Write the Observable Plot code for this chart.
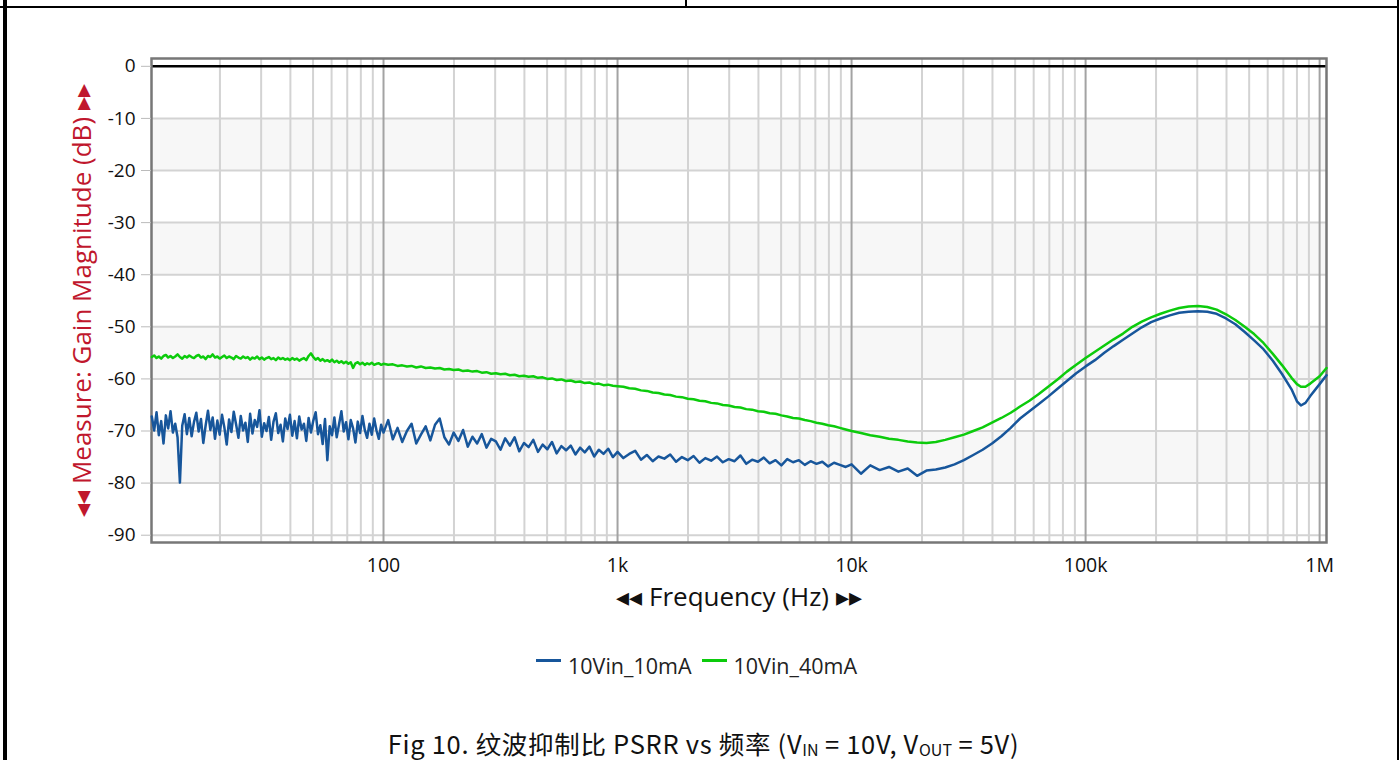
<!DOCTYPE html>
<html>
<head>
<meta charset="utf-8">
<script src="https://cdn.jsdelivr.net/npm/d3@7"></script>
<script src="https://cdn.jsdelivr.net/npm/@observablehq/plot@0.6"></script>
<style>
  html, body { margin: 0; padding: 0; background: #fff; }
  body { width: 1399px; height: 760px; position: relative; overflow: hidden; font-family: "Open Sans", "Noto Sans", sans-serif; }
  .bl { position: absolute; background: #000; }
  #chart { position: absolute; left: 0; top: 0; }
  #legend { position: absolute; left: 0; top: 647px; height: 36px; display: flex; align-items: center; font-size: 21.5px; color: #222; }
  .item { display: flex; align-items: center; margin-right: 10px; }
  .sw { display: inline-block; width: 25px; height: 3px; margin-right: 7px; position: relative; top: -5px; }
  #caption { position: absolute; left: 4px; width: 1399px; top: 728px; height: 30px; line-height: 30px; text-align: center; font-family: "Noto Sans CJK SC", sans-serif; font-size: 25.5px; letter-spacing: 0.7px; color: #111; }
  #caption sub { font-size: 16px; vertical-align: -2px; line-height: 0; letter-spacing: 0; }
</style>
</head>
<body>
<div class="bl" style="left:3px;top:0;width:4px;height:760px"></div>
<div class="bl" style="left:0;top:6px;width:1399px;height:2px"></div>
<div class="bl" style="left:685px;top:0;width:2px;height:7px"></div>
<div class="bl" style="left:1397px;top:0;width:2px;height:760px"></div>
<div id="chart"></div>
<div id="legend"></div>
<div id="caption">Fig 10. 纹波抑制比 PSRR vs 频率 (V<sub>IN</sub> = 10V, V<sub>OUT</sub> = 5V)</div>
<script>
// ---- data ----
const seriesNames = ["10Vin_10mA", "10Vin_40mA"];
const seriesColors = ["#17569b", "#0ccb0c"];

const freqHz = [
  // 10 Hz - 100 Hz
  10.23, 10.47, 10.72, 10.96, 11.22, 11.48, 11.75, 12.02, 12.30, 12.59,
  12.88, 13.18, 13.49, 13.80, 14.13, 14.45, 14.79, 15.14, 15.49, 15.85,
  16.22, 16.60, 16.98, 17.38, 17.78, 18.20, 18.62, 19.05, 19.50, 19.95,
  20.42, 20.89, 21.38, 21.88, 22.39, 22.91, 23.44, 23.99, 24.55, 25.12,
  25.70, 26.30, 26.92, 27.54, 28.18, 28.84, 29.51, 30.20, 30.90, 31.62,
  32.36, 33.11, 33.88, 34.67, 35.48, 36.31, 37.15, 38.02, 38.90, 39.81,
  40.74, 41.69, 42.66, 43.65, 44.67, 45.71, 46.77, 47.86, 48.98, 50.12,
  51.29, 52.48, 53.70, 54.95, 56.23, 57.54, 58.88, 60.26, 61.66, 63.10,
  64.57, 66.07, 67.61, 69.18, 70.79, 72.44, 74.13, 75.86, 77.62, 79.43,
  81.28, 83.18, 85.11, 87.10, 89.13, 91.20, 93.33, 95.50, 97.72,
  // 100 Hz - 1 kHz
  100, 104.7, 109.6, 114.8, 120.2, 125.9, 131.8, 138.0, 144.5, 151.4,
  158.5, 166.0, 173.8, 182.0, 190.5, 199.5, 208.9, 218.8, 229.1, 239.9,
  251.2, 263.0, 275.4, 288.4, 302.0, 316.2, 331.1, 346.7, 363.1, 380.2,
  398.1, 416.9, 436.5, 457.1, 478.6, 501.2, 524.8, 549.5, 575.4, 602.6,
  631.0, 660.7, 691.8, 724.4, 758.6, 794.3, 831.8, 871.0, 912.0, 955.0,
  // 1 kHz - 10 kHz
  1000, 1059, 1122, 1189, 1259, 1334, 1413, 1496, 1585, 1679,
  1778, 1884, 1995, 2113, 2239, 2371, 2512, 2661, 2818, 2985,
  3162, 3350, 3548, 3758, 3981, 4217, 4467, 4732, 5012, 5309,
  5623, 5957, 6310, 6683, 7079, 7499, 7943, 8414, 8913, 9441,
  // 10 kHz - 100 kHz
  10000, 10965, 12023, 13183, 14454, 15849, 17378, 19055, 20893, 22909,
  25119, 27542, 30200, 33113, 36308, 39811, 43652, 47863, 52481, 57544,
  63096, 69183, 75858, 83176, 91201,
  // 100 kHz - 1.07 MHz
  100000, 109648, 120226, 131826, 144544, 158489, 173780, 190546, 208930, 229087,
  251189, 275423, 301995, 331131, 363078, 398107, 436516, 478630, 524807, 575440,
  630957, 691831, 758578, 800000, 831764, 870000, 912011, 1000000, 1070000
];

const psrr10mA = [
  -67.2, -69.9, -66.4, -70.8, -68.1, -72.4, -67.0, -69.5, -66.2, -70.3,
  -68.6, -71.2, -79.9, -69.0, -66.8, -70.6, -67.5, -71.0, -68.3, -66.5,
  -70.1, -67.7, -72.3, -68.9, -66.1, -69.8, -67.4, -71.5, -68.0, -70.7,
  -66.9, -69.3, -72.6, -67.8, -70.2, -66.3, -68.7, -71.3, -67.1, -69.9,
  -68.4, -72.1, -66.7, -70.5, -67.9, -69.2, -66.0, -71.1, -68.5, -70.0,
  -67.3, -71.7, -68.2, -66.6, -70.4, -68.8, -72.0, -67.6, -69.6, -66.9,
  -70.9, -68.1, -71.4, -67.2, -69.7, -68.6, -71.9, -67.5, -70.3, -68.0,
  -66.4, -70.6, -68.9, -72.5, -67.7, -75.6, -69.1, -70.8, -67.4, -71.2,
  -68.7, -66.2, -70.1, -68.3, -71.6, -67.9, -69.5, -72.2, -68.2, -70.4,
  -67.1, -69.8, -71.3, -68.6, -70.7, -67.6, -69.9, -71.5, -68.8,
  -70.3, -67.9, -71.6, -69.4, -72.1, -70.0, -68.6, -72.4, -70.7, -69.1,
  -71.8, -68.8, -67.6, -71.2, -72.6, -70.3, -71.9, -69.8, -73.0, -71.1,
  -72.4, -70.6, -73.2, -71.5, -72.0, -73.6, -71.4, -72.8, -71.2, -73.9,
  -72.3, -73.1, -71.7, -74.0, -72.6, -73.5, -72.1, -74.3, -72.9, -73.7,
  -72.8, -74.5, -73.2, -74.1, -73.0, -74.9, -73.6, -74.4, -73.4, -75.0,
  -74.0, -75.2, -74.4, -73.8, -75.5, -74.6, -75.8, -74.9, -75.3, -74.5,
  -75.9, -75.0, -75.6, -74.8, -76.1, -75.2, -75.7, -74.9, -76.0, -75.4,
  -75.8, -74.7, -76.3, -75.5, -75.9, -75.1, -76.2, -75.6, -76.6, -75.4,
  -76.0, -75.6, -76.5, -75.8, -76.3, -75.9, -76.8, -76.1, -76.5, -76.9,
  -76.4, -78.2, -76.6, -77.5, -76.9, -77.8, -77.2, -78.6, -77.6, -77.4,
  -77.0, -76.4, -75.6, -74.6, -73.6, -72.4, -71.0, -69.4, -67.6, -66.2,
  -64.8, -63.4, -61.9, -60.4, -58.9,
  -57.6, -56.4, -55.0, -53.7, -52.5, -51.3, -50.1, -49.1, -48.4, -47.8,
  -47.3, -47.1, -47.0, -47.1, -47.5, -48.4, -49.5, -51.0, -52.6, -54.3,
  -56.5, -59.1, -62.0, -64.3, -65.1, -64.6, -63.3, -61.0, -59.3
];

const psrr40mA = [
  -55.8, -55.5, -56.0, -55.7, -56.1, -55.6, -55.4, -55.9, -55.6, -56.0,
  -55.7, -55.3, -55.8, -56.1, -55.6, -55.9, -55.5, -55.8, -56.0, -55.6,
  -55.4, -55.9, -55.7, -56.2, -55.6, -55.8, -55.3, -55.9, -55.7, -56.1,
  -55.8, -55.5, -56.0, -55.7, -55.9, -56.2, -55.6, -55.9, -56.1, -55.7,
  -56.0, -55.8, -56.3, -55.9, -56.1, -55.7, -56.2, -55.9, -56.3, -56.0,
  -55.8, -56.2, -56.0, -56.4, -55.9, -56.2, -56.0, -56.3, -56.1, -56.4,
  -56.0, -56.3, -56.1, -56.5, -56.2, -56.0, -56.4, -55.6, -55.1, -55.8,
  -56.3, -56.0, -56.5, -56.2, -56.6, -56.4, -56.7, -56.3, -56.8, -56.5,
  -56.9, -56.6, -57.0, -56.7, -57.1, -56.8, -57.9, -57.0, -56.8, -57.2,
  -56.9, -57.3, -57.0, -57.2, -56.9, -57.3, -57.1, -57.0, -57.3,
  -57.1, -57.3, -57.2, -57.5, -57.4, -57.6, -57.5, -57.8, -57.6, -57.9,
  -57.8, -58.0, -57.9, -58.2, -58.1, -58.3, -58.2, -58.5, -58.4, -58.6,
  -58.5, -58.8, -58.7, -59.0, -58.9, -59.1, -59.0, -59.3, -59.2, -59.5,
  -59.4, -59.6, -59.5, -59.8, -59.7, -60.0, -59.9, -60.2, -60.1, -60.4,
  -60.3, -60.6, -60.5, -60.8, -60.7, -61.0, -60.9, -61.2, -61.1, -61.3,
  -61.4, -61.5, -61.8, -61.9, -62.2, -62.3, -62.6, -62.7, -63.0, -63.1,
  -63.4, -63.5, -63.8, -63.9, -64.2, -64.3, -64.6, -64.7, -65.0, -65.1,
  -65.4, -65.5, -65.8, -65.9, -66.2, -66.3, -66.6, -66.7, -67.0, -67.2,
  -67.5, -67.6, -67.9, -68.1, -68.4, -68.6, -68.9, -69.1, -69.4, -69.7,
  -70.0, -70.4, -70.8, -71.1, -71.5, -71.7, -72.0, -72.2, -72.3, -72.1,
  -71.7, -71.2, -70.7, -70.0, -69.3, -68.4, -67.5, -66.5, -65.3, -64.2,
  -62.9, -61.5, -60.1, -58.6, -57.3,
  -56.0, -54.8, -53.6, -52.4, -51.3, -50.0, -49.0, -48.2, -47.5, -46.9,
  -46.4, -46.1, -46.0, -46.2, -46.7, -47.6, -48.7, -50.0, -51.4, -53.1,
  -55.2, -57.4, -59.8, -61.0, -61.5, -61.5, -60.9, -59.5, -57.9
];

const xTickValues = [100, 1000, 10000, 100000, 1000000];
const xTickLabels = ["100", "1k", "10k", "100k", "1M"];
const xDecades = [10, 100, 1000, 10000, 100000];
const xMinorMultipliers = [2, 3, 4, 5, 6, 7, 8, 9];
const yTicks = [0, -10, -20, -30, -40, -50, -60, -70, -80, -90];
const shadedBandTops = [-10, -30, -50, -70];
const xLabel = "◂◂ Frequency (Hz) ▸▸";
const yLabel = "◂◂ Measure: Gain Magnitude (dB) ▸▸";

// ---- build ----
const minorX = xDecades.flatMap(d => xMinorMultipliers.map(m => d * m));
const d10 = freqHz.map((f, i) => ({f, v: psrr10mA[i]}));
const d40 = freqHz.map((f, i) => ({f, v: psrr40mA[i]}));

const chart = Plot.plot({
  width: 1399,
  height: 620,
  marginLeft: 151,
  marginRight: 73,
  marginTop: 58,
  marginBottom: 78,
  style: {fontFamily: '"Open Sans", "Noto Sans", sans-serif', fontSize: "18px", color: "#111", background: "transparent", overflow: "visible"},
  x: {type: "log", domain: [10.2, 1070000]},
  y: {domain: [-91.4, 1.5]},
  marks: [
    Plot.rect(shadedBandTops, {y1: d => d, y2: d => d - 10, fill: "#f7f7f7"}),
    Plot.ruleX(minorX, {stroke: "#d3d3d3", strokeWidth: 2}),
    Plot.ruleY(yTicks.filter(d => d !== 0), {stroke: "#d3d3d3", strokeWidth: 2}),
    Plot.ruleX(xTickValues, {stroke: "#a3a3a3", strokeWidth: 2}),
    Plot.ruleY([0], {stroke: "#000", strokeWidth: 2.5}),
    Plot.frame({stroke: "#777", strokeWidth: 2.5}),
    Plot.axisY({ticks: yTicks, tickSize: 10, tickPadding: 6, stroke: "#bbb", fill: "#111", fontSize: 19, tickFormat: d => String(d), label: null}),
    Plot.axisX({ticks: xTickValues, tickSize: 0, tickPadding: 16, fill: "#111", fontSize: 19.5, tickFormat: d => xTickLabels[xTickValues.indexOf(d)], label: null}),
    Plot.text([yLabel], {frameAnchor: "left", textAnchor: "middle", dx: -69, rotate: -90, fill: "#c0172d", fontSize: 26}),
    Plot.text([xLabel], {frameAnchor: "bottom", textAnchor: "middle", dy: 63, fill: "#111", fontSize: 26}),
    Plot.line(d10, {x: "f", y: "v", stroke: seriesColors[0], strokeWidth: 2.5}),
    Plot.line(d40, {x: "f", y: "v", stroke: seriesColors[1], strokeWidth: 2.5})
  ]
});
document.getElementById("chart").appendChild(chart);

const legend = document.getElementById("legend");
seriesNames.forEach((name, i) => {
  const item = document.createElement("div");
  item.className = "item";
  const sw = document.createElement("span");
  sw.className = "sw";
  sw.style.background = seriesColors[i];
  const t = document.createElement("span");
  t.textContent = name;
  item.appendChild(sw);
  item.appendChild(t);
  legend.appendChild(item);
});
// centre the legend block on the plot's horizontal middle
const lw = legend.getBoundingClientRect().width - 10;
legend.style.left = Math.round(697 - lw / 2) + "px";
</script>
</body>
</html>
